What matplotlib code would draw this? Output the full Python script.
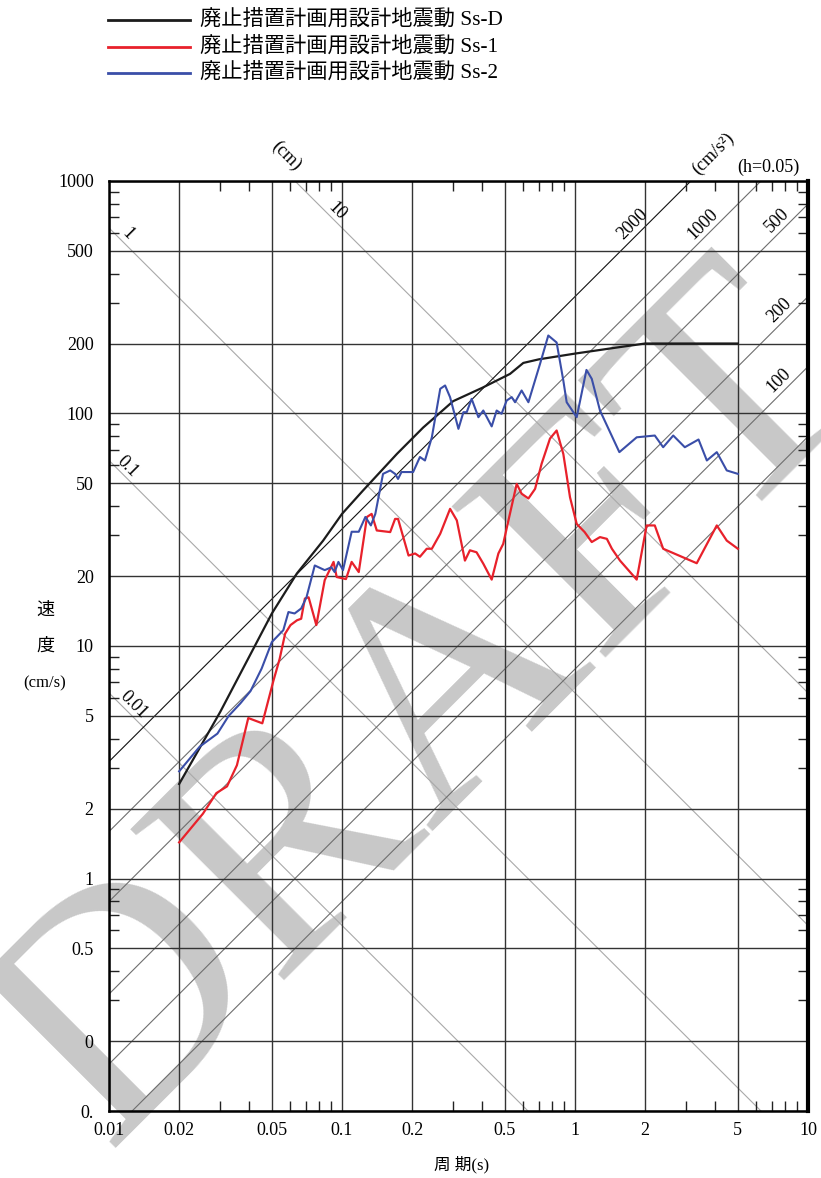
import numpy as np
import matplotlib.pyplot as plt
from matplotlib.lines import Line2D
from matplotlib.ticker import FixedLocator, FixedFormatter

plt.rcParams['font.family'] = ['Liberation Serif', 'Noto Sans CJK JP', 'DejaVu Sans']

# ---- data (period s, velocity cm/s) ----
period_d = [0.02, 0.03, 0.05, 0.064, 0.083, 0.1, 0.123, 0.172, 0.223, 0.30, 0.40,
            0.526, 0.60, 0.70, 1.0, 1.5, 2.0, 5.0]
vel_d = [2.55, 5.2, 13.8, 20.5, 28.4, 37.0, 46.6, 67.0, 87.0, 113.0, 129.0,
         148.0, 165.0, 171.0, 181.0, 192.0, 200.0, 200.0]

period_1 = [0.02, 0.0253, 0.0289, 0.0321, 0.0354, 0.0396, 0.0455, 0.0508, 0.054, 0.057,
            0.0601, 0.0641, 0.0668, 0.0693, 0.0719, 0.0776, 0.0843, 0.092, 0.0949, 0.104,
            0.110, 0.118, 0.128, 0.134, 0.141, 0.161, 0.169, 0.174, 0.193, 0.206,
            0.216, 0.231, 0.243, 0.264, 0.291, 0.311, 0.337, 0.354, 0.378, 0.404,
            0.439, 0.469, 0.492, 0.518, 0.562, 0.59, 0.631, 0.674, 0.719, 0.781,
            0.834, 0.891, 0.952, 1.017, 1.10, 1.18, 1.28, 1.37, 1.44, 1.56,
            1.84, 2.03, 2.2, 2.39, 3.33, 4.06, 4.48, 5.0]
vel_1 = [1.43, 1.9, 2.33, 2.49, 3.07, 4.9, 4.65, 7.1, 8.8, 11.3,
         12.3, 12.9, 13.1, 16.0, 16.2, 12.3, 19.2, 23.0, 19.8, 19.4,
         23.0, 20.8, 35.9, 37.0, 31.4, 30.9, 35.2, 35.2, 24.5, 25.0,
         24.2, 26.2, 26.2, 30.4, 38.9, 34.7, 23.3, 25.8, 25.3, 22.6,
         19.3, 25.0, 27.5, 34.7, 49.8, 45.2, 43.1, 47.4, 60.8, 78.0,
         84.5, 67.0, 43.6, 33.5, 30.9, 28.0, 29.4, 28.9, 26.2, 23.3,
         19.3, 33.0, 33.0, 26.2, 22.7, 33.0, 28.4, 26.2]

period_2 = [0.02, 0.0245, 0.0292, 0.0326, 0.0366, 0.0405, 0.0452, 0.050, 0.056, 0.0589,
            0.0626, 0.0668, 0.0704, 0.0764, 0.0843, 0.090, 0.093, 0.0965, 0.101, 0.110,
            0.118, 0.126, 0.133, 0.139, 0.150, 0.161, 0.169, 0.174, 0.180, 0.193,
            0.202, 0.216, 0.227, 0.243, 0.264, 0.277, 0.291, 0.316, 0.332, 0.343,
            0.36, 0.385, 0.404, 0.439, 0.461, 0.484, 0.509, 0.535, 0.553, 0.59,
            0.631, 0.708, 0.768, 0.834, 0.891, 0.921, 1.017, 1.12, 1.18, 1.28,
            1.55, 1.84, 2.2, 2.39, 2.64, 2.96, 3.39, 3.68, 4.06, 4.48, 5.0]
vel_2 = [2.89, 3.69, 4.2, 5.0, 5.66, 6.4, 8.0, 10.4, 11.7, 14.0,
         13.8, 14.5, 16.2, 22.2, 21.2, 21.8, 20.8, 23.0, 21.2, 31.0,
         31.0, 35.9, 33.0, 37.0, 55.0, 56.9, 55.0, 52.3, 56.0, 56.0,
         56.0, 65.0, 62.8, 79.0, 127.7, 132.0, 117.5, 85.9, 101.3, 101.3,
         115.6, 96.4, 103.0, 88.0, 103.0, 99.7, 113.7, 117.6, 111.8, 125.6,
         111.8, 163.6, 216.5, 202.0, 138.6, 111.8, 96.4, 154.0, 141.0, 103.0,
         68.2, 79.0, 80.4, 71.6, 80.4, 71.6, 77.3, 62.8, 68.2, 56.9, 55.0]

series_labels = ["廃止措置計画用設計地震動 Ss-D",
                 "廃止措置計画用設計地震動 Ss-1",
                 "廃止措置計画用設計地震動 Ss-2"]
series_colors = ["#1c1c1c", "#e8212b", "#3a4ea8"]

# tripartite guide lines
disp_levels = [0.01, 0.1, 1, 10]            # cm
disp_labels = ["0.01", "0.1", "1", "10"]
disp_label_T = [0.0120, 0.0113, 0.0113, 0.0898]
acc_levels = [50, 100, 200, 500, 1000, 2000]  # cm/s2
acc_label_vals = [100, 200, 500, 1000, 2000]
acc_label_T = [8.1, 8.1, 7.93, 3.81, 1.91]

x_ticks = [0.01, 0.02, 0.05, 0.1, 0.2, 0.5, 1, 2, 5, 10]
x_ticklabels = ["0.01", "0.02", "0.05", "0.1", "0.2", "0.5", "1", "2", "5", "10"]
y_ticks = [0.1, 0.2, 0.5, 1, 2, 5, 10, 20, 50, 100, 200, 500, 1000]
y_ticklabels = ["0.", "0", "0.5", "1", "2", "5", "10", "20", "50", "100", "200", "500", "1000"]

W, H = 821, 1178
fig = plt.figure(figsize=(W / 100, H / 100), dpi=100)
ax = fig.add_axes([109 / W, 1 - 1111 / H, (808 - 109) / W, (1111 - 181) / H])
ax.set_xscale("log")
ax.set_yscale("log")
ax.set_xlim(0.01, 10)
ax.set_ylim(0.1, 1000)
ax.patch.set_alpha(0)

# watermark (behind everything)
fig.text(430 / W, 1 - 712 / H, "DRAFT", fontsize=236, color="#c8c8c8",
         family="Liberation Serif", rotation=45, ha="center", va="center",
         rotation_mode="anchor", zorder=-5)

# grid
ax.xaxis.set_major_locator(FixedLocator(x_ticks))
ax.xaxis.set_major_formatter(FixedFormatter(x_ticklabels))
ax.yaxis.set_major_locator(FixedLocator(y_ticks))
ax.yaxis.set_major_formatter(FixedFormatter(y_ticklabels))
x_minor = [k * 10.0 ** e for e in range(-2, 1) for k in (3, 4, 6, 7, 8, 9)]
y_minor = [k * 10.0 ** e for e in range(-1, 3) for k in (3, 4, 6, 7, 8, 9)]
ax.xaxis.set_minor_locator(FixedLocator(x_minor))
ax.yaxis.set_minor_locator(FixedLocator(y_minor))
ax.xaxis.set_minor_formatter(FixedFormatter([""] * len(x_minor)))
ax.yaxis.set_minor_formatter(FixedFormatter([""] * len(y_minor)))
ax.grid(True, which="major", color="#333333", lw=1.0)
ax.tick_params(which="major", length=0, labelsize=13)
ax.tick_params(axis="y", which="major", pad=11)
ax.tick_params(axis="x", which="major", pad=8)
ax.tick_params(which="minor", direction="in", length=7, width=1.0, color="#222222",
               top=True, right=True, bottom=True, left=True)
for side in ["left", "top", "bottom"]:
    ax.spines[side].set_linewidth(1.8)
ax.spines["right"].set_linewidth(3.0)

T = np.logspace(-2, 1, 300)
for d in disp_levels:
    ax.plot(T, 2 * np.pi * d / T, color="#a9a9a9", lw=0.8, zorder=1.2)
for a in acc_levels:
    ax.plot(T, a * T / (2 * np.pi), color="#111111" if a == 2000 else "#6e6e6e",
            lw=0.8, zorder=1.2)

for d, lab, t in zip(disp_levels, disp_labels, disp_label_T):
    ax.annotate(lab, (t, 2 * np.pi * d / t), xytext=(4.3, 4.3), textcoords="offset points",
                rotation=-45, ha="center", va="center", rotation_mode="anchor", fontsize=13)
for a, t in zip(acc_label_vals, acc_label_T):
    ax.annotate(str(a), (t, a * t / (2 * np.pi)), xytext=(-5.4, 5.4), textcoords="offset points",
                rotation=45, ha="center", va="center", rotation_mode="anchor", fontsize=13)

ax.plot(period_d, vel_d, color=series_colors[0], lw=1.6, zorder=3)
ax.plot(period_1, vel_1, color=series_colors[1], lw=1.6, zorder=3)
ax.plot(period_2, vel_2, color=series_colors[2], lw=1.5, zorder=3)

# unit labels
fig.text(286 / W, 1 - 156 / H, "(cm)", fontsize=13, rotation=-45, ha="center", va="center",
         rotation_mode="anchor")
fig.text(713 / W, 1 - 154 / H, "(cm/s²)", fontsize=13, rotation=45, ha="center", va="center",
         rotation_mode="anchor")
fig.text(768 / W, 1 - 167 / H, "(h=0.05)", fontsize=13, ha="center", va="center")

# axis titles
fig.text(45 / W, 1 - 610 / H, "速", fontsize=13, ha="center", va="center")
fig.text(45 / W, 1 - 646 / H, "度", fontsize=13, ha="center", va="center")
fig.text(45 / W, 1 - 683 / H, "(cm/s)", fontsize=12, ha="center", va="center")
fig.text(462 / W, 1 - 1165 / H, "周 期(s)", fontsize=12, ha="center", va="center")

# legend
for i, (lab, c) in enumerate(zip(series_labels, series_colors)):
    yy = 1 - (20 + 26.5 * i) / H
    fig.add_artist(Line2D([108 / W, 190 / W], [yy, yy], color=c, lw=2))
    fig.text(200 / W, yy, lab, fontsize=15.3, va="center", ha="left")

fig.savefig("out.png", dpi=100)
